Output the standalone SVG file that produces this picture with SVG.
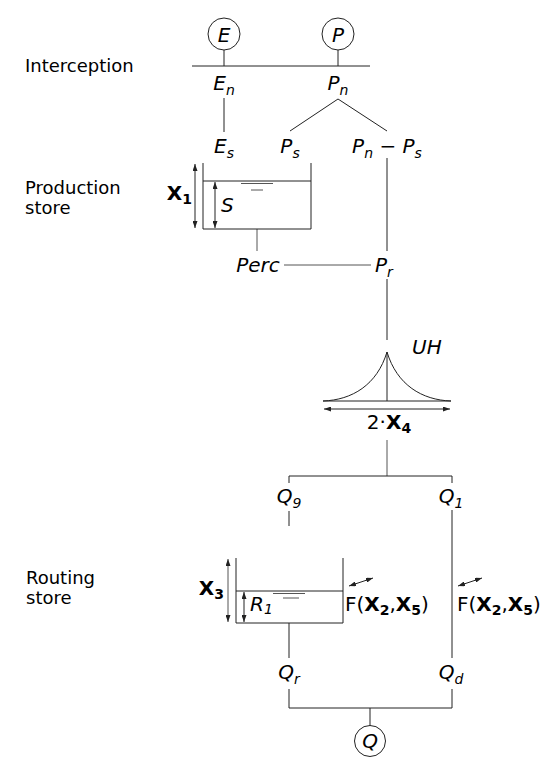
<svg xmlns="http://www.w3.org/2000/svg" width="558" height="767" viewBox="0 0 558 767">
<style>
  .ln { stroke: #222; stroke-width: 1; fill: none; }
  .gl { stroke: #555; stroke-width: 1; fill: none; }
  .circ { stroke: #222; stroke-width: 1; fill: #fff; }
  text { font-family: "DejaVu Sans", "Liberation Sans", sans-serif; fill: #000; }
  .side { font-size: 18px; }
  .m { font-size: 20px; font-style: italic; }
  .r { font-size: 20px; }
  .b { font-weight: bold; }
  .sub { font-size: 14px; }
</style>
<defs>
  <marker id="ah" markerWidth="7" markerHeight="5" refX="7" refY="2.5" orient="auto-start-reverse" markerUnits="userSpaceOnUse">
    <path d="M0,0 L7,2.5 L0,5 z" fill="#222"/>
  </marker>
</defs>

<g id="labels">
  <text class="side" x="25" y="72">Interception</text>
  <text class="side" x="25" y="194">Production<tspan x="25" dy="19.5">store</tspan></text>
  <text class="side" x="26" y="584">Routing<tspan x="26" dy="19.5">store</tspan></text>
</g>

<g id="connectors">
  <path class="ln" d="M224,50 V66 M338,50 V66 M192,66 H370"/>
  <path class="ln" d="M224,98 V132"/>
  <path class="ln" d="M338,99 L290,131 M338,99 L387,131"/>
  <path class="ln" d="M387,158 V251"/>
  <path class="gl" d="M257,229 V251"/>
  <path class="gl" d="M284,265 H371"/>
  <path class="ln" d="M387,279 V340"/>
  <path class="gl" d="M387,440 V476"/>
  <path class="ln" d="M289,483 V476 H452 V483"/>
  <path class="ln" d="M289,511 V526"/>
  <path class="ln" d="M452,510 V658"/>
  <path class="ln" d="M289,623 V658"/>
  <path class="ln" d="M289,689 V708 H452 V689"/>
  <path class="ln" d="M370,708 V726"/>
</g>

<g id="node-E">
  <circle class="circ" cx="224" cy="34" r="16"/>
  <text class="m" x="224" y="41.5" text-anchor="middle">E</text>
</g>
<g id="node-P">
  <circle class="circ" cx="338" cy="34" r="16"/>
  <text class="m" x="338" y="41.5" text-anchor="middle">P</text>
</g>
<g id="node-En">
  <text class="m" x="224" y="90" text-anchor="middle">E<tspan class="sub" dy="5">n</tspan></text>
</g>
<g id="node-Pn">
  <text class="m" x="338" y="90" text-anchor="middle">P<tspan class="sub" dy="5">n</tspan></text>
</g>
<g id="node-Es">
  <text class="m" x="224" y="153" text-anchor="middle">E<tspan class="sub" dy="5">s</tspan></text>
</g>
<g id="node-Ps">
  <text class="m" x="290" y="153" text-anchor="middle">P<tspan class="sub" dy="5">s</tspan></text>
</g>
<g id="node-PnPs">
  <text class="m" x="387" y="153" text-anchor="middle">P<tspan class="sub" dy="5">n</tspan><tspan dy="-5"> − P</tspan><tspan class="sub" dy="5">s</tspan></text>
</g>

<g id="node-production-store">
  <path class="ln" d="M203,163 V229 H311 V163"/>
  <path class="ln" d="M203,181 H311"/>
  <path class="gl" d="M241,183.5 H273 M251,190 H263"/>
  <path class="ln" d="M215,182 V228" marker-start="url(#ah)" marker-end="url(#ah)"/>
  <path class="ln" d="M195,164 V228" marker-start="url(#ah)" marker-end="url(#ah)"/>
  <text class="m" x="221" y="212">S</text>
  <text class="r b" x="192" y="200" text-anchor="end">X<tspan class="sub" dy="4">1</tspan></text>
</g>

<g id="node-Perc">
  <text class="m" x="258" y="272" text-anchor="middle">Perc</text>
</g>
<g id="node-Pr">
  <text class="m" x="375" y="272">P<tspan class="sub" dy="5">r</tspan></text>
</g>

<g id="node-UH">
  <path class="ln" d="M323,401 C352,400 377,385 387,352 C397,385 422,400 451,401"/>
  <path class="ln" d="M323,401 H451 M387,352 V401"/>
  <path class="ln" d="M324,409 H450" marker-start="url(#ah)" marker-end="url(#ah)"/>
  <text class="m" x="412" y="354">UH</text>
  <text class="r" x="389" y="429" text-anchor="middle">2·<tspan class="b">X</tspan><tspan class="sub b" dy="4">4</tspan></text>
</g>

<g id="node-Q9">
  <text class="m" x="289" y="503" text-anchor="middle">Q<tspan class="sub" dy="5">9</tspan></text>
</g>
<g id="node-Q1">
  <text class="m" x="451" y="503" text-anchor="middle">Q<tspan class="sub" dy="5">1</tspan></text>
</g>

<g id="node-routing-store">
  <path class="ln" d="M236,558 V623 H343 V558"/>
  <path class="ln" d="M236,591 H343"/>
  <path class="gl" d="M273,593.5 H305 M283,598 H299"/>
  <path class="ln" d="M244,592 V622" marker-start="url(#ah)" marker-end="url(#ah)"/>
  <path class="gl" d="M228,559 V622" marker-start="url(#ah)" marker-end="url(#ah)"/>
  <text class="m" x="250" y="611">R<tspan class="sub" dy="3">1</tspan></text>
  <text class="r b" x="224" y="595" text-anchor="end">X<tspan class="sub" dy="4">3</tspan></text>
</g>

<g id="node-F-left">
  <path class="ln" d="M349,586 L373,578" marker-start="url(#ah)" marker-end="url(#ah)"/>
  <text class="r" x="345" y="611">F(<tspan class="b">X</tspan><tspan class="sub b" dy="4">2</tspan><tspan dy="-4">,</tspan><tspan class="b">X</tspan><tspan class="sub b" dy="4">5</tspan><tspan dy="-4">)</tspan></text>
</g>
<g id="node-F-right">
  <path class="ln" d="M458,586 L482,578" marker-start="url(#ah)" marker-end="url(#ah)"/>
  <text class="r" x="457" y="611">F(<tspan class="b">X</tspan><tspan class="sub b" dy="4">2</tspan><tspan dy="-4">,</tspan><tspan class="b">X</tspan><tspan class="sub b" dy="4">5</tspan><tspan dy="-4">)</tspan></text>
</g>

<g id="node-Qr">
  <text class="m" x="289" y="679" text-anchor="middle">Q<tspan class="sub" dy="5">r</tspan></text>
</g>
<g id="node-Qd">
  <text class="m" x="451" y="679" text-anchor="middle">Q<tspan class="sub" dy="5">d</tspan></text>
</g>
<g id="node-Q">
  <circle class="circ" cx="370" cy="741" r="15.5"/>
  <text class="m" x="370" y="748" text-anchor="middle">Q</text>
</g>
</svg>
